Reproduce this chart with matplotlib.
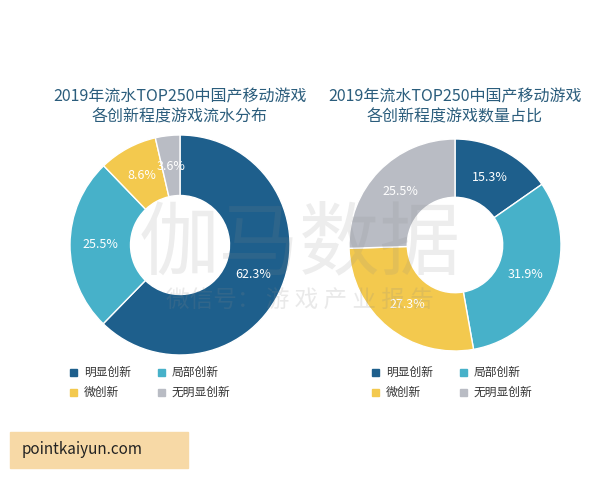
import numpy as np
import matplotlib.pyplot as plt
from matplotlib.patches import Rectangle

plt.rcParams['font.family'] = ['Noto Sans CJK SC', 'DejaVu Sans']

CATEGORIES = ["明显创新", "局部创新", "微创新", "无明显创新"]
COLORS = ["#1e5f8c", "#47b1c9", "#f3c94e", "#b9bcc4"]
LEFT_VALUES = [62.3, 25.5, 8.6, 3.6]
RIGHT_VALUES = [15.3, 31.9, 27.3, 25.5]
LEFT_TITLE = "2019年流水TOP250中国产移动游戏\n各创新程度游戏流水分布"
RIGHT_TITLE = "2019年流水TOP250中国产移动游戏\n各创新程度游戏数量占比"

W, H = 600, 480
fig = plt.figure(figsize=(6, 4.8), dpi=100)

# watermark first so it sits under the donuts
fig.text(300 / W, 1 - 245 / H, "伽马数据", ha="center", va="center", fontsize=58,
         color="#888888", alpha=0.15)
fig.text(300 / W, 1 - 300 / H, "微信号： 游 戏 产 业 报 告", ha="center", va="center",
         fontsize=17, color="#888888", alpha=0.18)


def px_axes(cx, cy, r):
    return fig.add_axes([(cx - r) / W, 1 - (cy + r) / H, 2 * r / W, 2 * r / H])


def donut(cx, cy, r, values, title, legend_x):
    ax = px_axes(cx, cy, r)
    ax.pie(values, colors=COLORS, startangle=90, counterclock=False,
           wedgeprops=dict(width=0.55, edgecolor="white", linewidth=1))
    ax.set_xlim(-1, 1)
    ax.set_ylim(-1, 1)
    ax.patch.set_alpha(0)
    total = sum(values)
    start = 90
    for v in values:
        mid = np.deg2rad(start - v / total * 360 / 2)
        ax.text(0.72 * np.cos(mid), 0.72 * np.sin(mid), f"{v}%",
                ha="center", va="center", color="white", fontsize=9)
        start -= v / total * 360
    fig.text(cx / W, 1 - 107 / H, title, ha="center", va="center",
             fontsize=11.5, color="#2b5d7c", linespacing=1.3)
    for i, (c, col) in enumerate(zip(CATEGORIES, COLORS)):
        x = legend_x + (i % 2) * 88
        y = 372 + (i // 2) * 20
        fig.patches.append(Rectangle((x / W, 1 - (y + 4) / H), 7 / W, 7 / H,
                                     transform=fig.transFigure, color=col))
        fig.text((x + 14) / W, 1 - y / H, c, fontsize=8.5, va="center", color="#333333")


donut(180, 245, 110, LEFT_VALUES, LEFT_TITLE, 70)
donut(455, 245, 106, RIGHT_VALUES, RIGHT_TITLE, 372)

fig.patches.append(Rectangle((10 / W, 1 - 468 / H), 178 / W, 36 / H,
                             transform=fig.transFigure, color="#f7d9a6"))
fig.text(22 / W, 1 - 450 / H, "pointkaiyun.com", fontsize=11, va="center", color="#222222")

fig.savefig("out.png", dpi=100)
